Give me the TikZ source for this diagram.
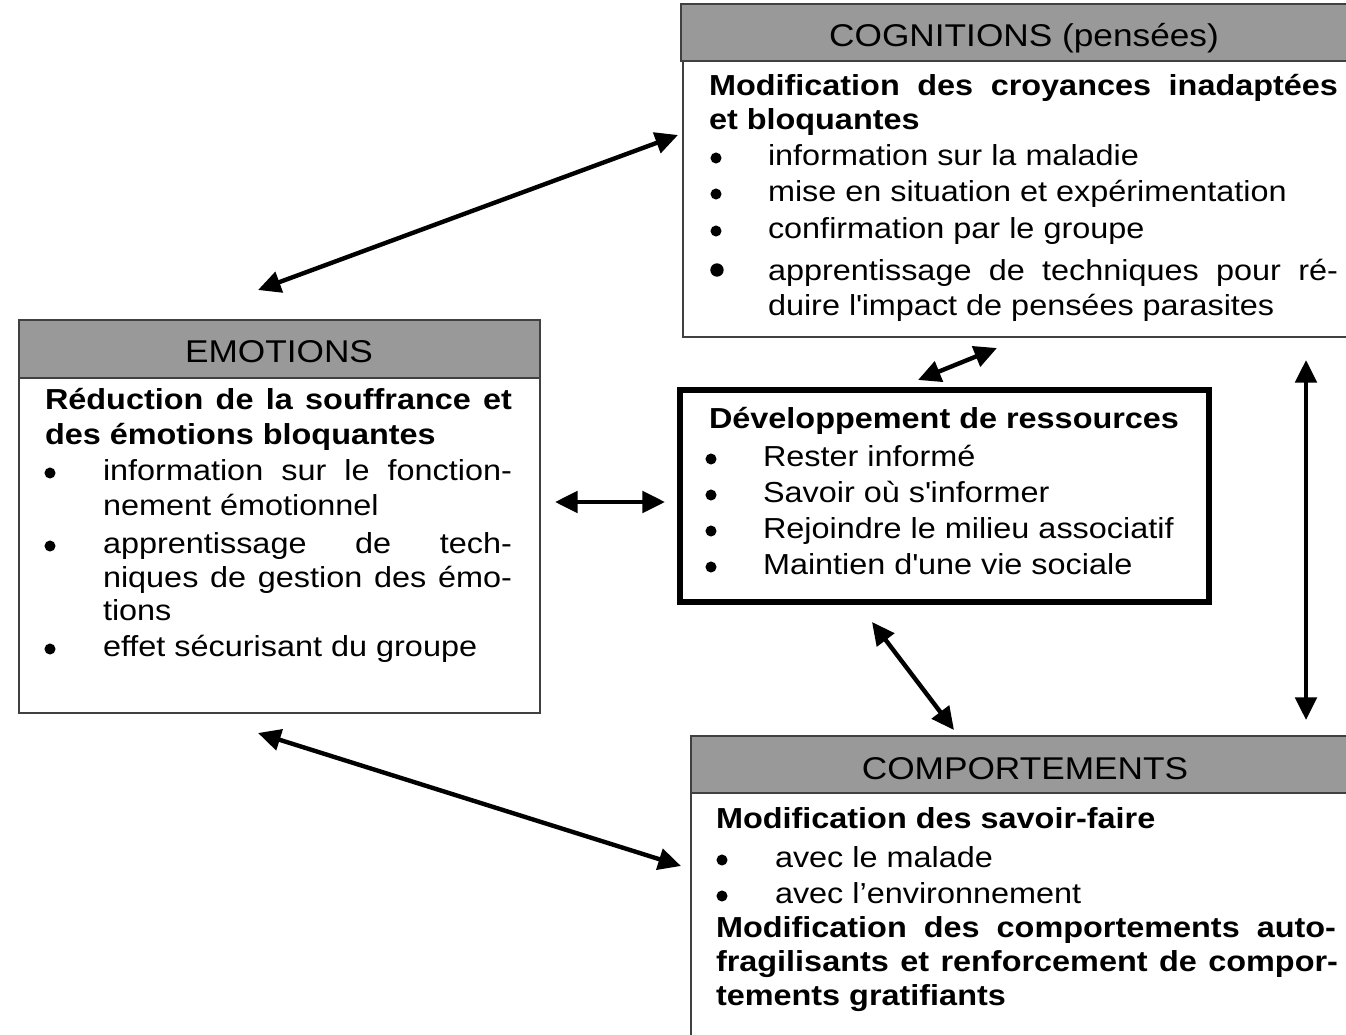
\documentclass[tikz,border=0pt]{standalone}
\usepackage{fontspec}
\setmainfont{Liberation Sans}[FakeStretch=1.12]
\usetikzlibrary{arrows.meta,fit}
\newcommand\bodyf{\fontsize{21.7}{27}\selectfont}
\newcommand\headf{\fontsize{23.6}{28}\selectfont}
\newcommand\J[2]{\makebox[\dimexpr #1pt*3/4\relax][s]{#2}}
\newcommand\sq{\textquotesingle}
\tikzset{
  hdr/.style={draw=black!75, line width=1.6pt, fill=black!40, inner sep=0pt, outer sep=0pt},
  bodybox/.style={draw=black!75, line width=1.6pt, fill=white, inner sep=0pt, outer sep=0pt},
  devbox/.style={draw=black, line width=3.8pt, fill=white, inner sep=0pt, outer sep=0pt},
  txt/.style={anchor=base west, inner sep=0pt, outer sep=0pt, font=\bodyf},
  btxt/.style={txt, font=\bodyf\bfseries},
  htxt/.style={anchor=base, inner sep=0pt, outer sep=0pt, font=\headf},
  bul/.style={circle, fill=black, draw=none, inner sep=0pt, minimum size=8.3pt},
  link/.style={line width=3.3pt, {Triangle[length=17pt,width=16pt]}-{Triangle[length=17pt,width=16pt]}}
}
\begin{document}
\begin{tikzpicture}[x=0.75pt,y=-0.75pt]
\clip (0,0) rectangle (1346,1035);
\fill[white] (0,0) rectangle (1346,1035);

% ---------- COGNITIONS ----------
\node[bodybox, fit={(683,61) (1370,337)}] (cogB) {};
\node[hdr, fit={(681,4) (1370,61)}] (cogH) {};
\node[htxt] (cogT) at (1024,46) {COGNITIONS (pensées)};
\node[btxt] (cog1) at (709,95) {\J{629}{Modification des croyances inadaptées}};
\node[btxt] (cog2) at (709,129) {et bloquantes};
\node[bul] (cb1) at (716,158) {};
\node[txt] (cog3) at (768,165) {information sur la maladie};
\node[bul] (cb2) at (716,194) {};
\node[txt] (cog4) at (768,201) {mise en situation et expérimentation};
\node[bul] (cb3) at (716,231) {};
\node[txt] (cog5) at (768,238) {confirmation par le groupe};
\node[bul, minimum size=10pt] (cb4) at (717,270) {};
\node[txt] (cog6) at (768,280) {\J{570}{apprentissage de techniques pour ré-}};
\node[txt] (cog7) at (768,315) {duire l\sq impact de pensées parasites};

% ---------- EMOTIONS ----------
\node[bodybox, fit={(19,378) (540,713)}] (emoB) {};
\node[hdr, fit={(19,320) (540,378)}] (emoH) {};
\node[htxt] (emoT) at (279,362) {EMOTIONS};
\node[btxt] (emo1) at (45,409) {\J{467}{Réduction de la souffrance et}};
\node[btxt] (emo2) at (45,444) {des émotions bloquantes};
\node[bul] (eb1) at (50,473) {};
\node[txt] (emo3) at (103,480) {\J{409}{information sur le fonction-}};
\node[txt] (emo4) at (103,515) {nement émotionnel};
\node[bul] (eb2) at (50,546) {};
\node[txt] (emo5) at (103,553) {\J{409}{apprentissage de tech-}};
\node[txt] (emo6) at (103,587) {\J{409}{niques de gestion des émo-}};
\node[txt] (emo7) at (103,620) {tions};
\node[bul] (eb3) at (50,649) {};
\node[txt] (emo8) at (103,656) {effet sécurisant du groupe};

% ---------- DEVELOPPEMENT ----------
\node[devbox, fit={(680,390) (1209,602)}] (dev) {};
\node[btxt] (dev1) at (709,428) {Développement de ressources};
\node[bul] (db1) at (711,459) {};
\node[txt] (dev2) at (763,466) {Rester informé};
\node[bul] (db2) at (711,495) {};
\node[txt] (dev3) at (763,502) {Savoir où s\sq informer};
\node[bul] (db3) at (711,531) {};
\node[txt] (dev4) at (763,538) {Rejoindre le milieu associatif};
\node[bul] (db4) at (711,567) {};
\node[txt] (dev5) at (763,574) {Maintien d\sq une vie sociale};

% ---------- COMPORTEMENTS ----------
\node[bodybox, fit={(691,793) (1370,1060)}] (comB) {};
\node[hdr, fit={(691,736) (1370,793)}] (comH) {};
\node[htxt] (comT) at (1025,779) {COMPORTEMENTS};
\node[btxt] (com1) at (716,828) {Modification des savoir-faire};
\node[bul] (kb1) at (722,860) {};
\node[txt] (com2) at (775,867) {avec le malade};
\node[bul] (kb2) at (722,896) {};
\node[txt] (com3) at (775,903) {avec l’environnement};
\node[btxt] (com4) at (716,937) {\J{620}{Modification des comportements auto-}};
\node[btxt] (com5) at (716,971) {\J{622}{fragilisants et renforcement de compor-}};
\node[btxt] (com6) at (716,1005) {tements gratifiants};

% ---------- connectors ----------
\coordinate (a1) at (258,290);  \coordinate (a2) at (678,135);
\coordinate (b1) at (258,733);  \coordinate (b2) at (681,866);
\coordinate (c1) at (555,502);  \coordinate (c2) at (665,502);
\coordinate (d1) at (918,380);  \coordinate (d2) at (997,348);
\coordinate (e1) at (872,622);  \coordinate (e2) at (954,730);
\coordinate (f1) at (1306,360); \coordinate (f2) at (1306,720);
\draw[link] (a1) -- (a2);
\draw[link] (b1) -- (b2);
\draw[link] (c1) -- (c2);
\draw[link] (d1) -- (d2);
\draw[link] (e1) -- (e2);
\draw[link] (f1) -- (f2);
\end{tikzpicture}
\end{document}
